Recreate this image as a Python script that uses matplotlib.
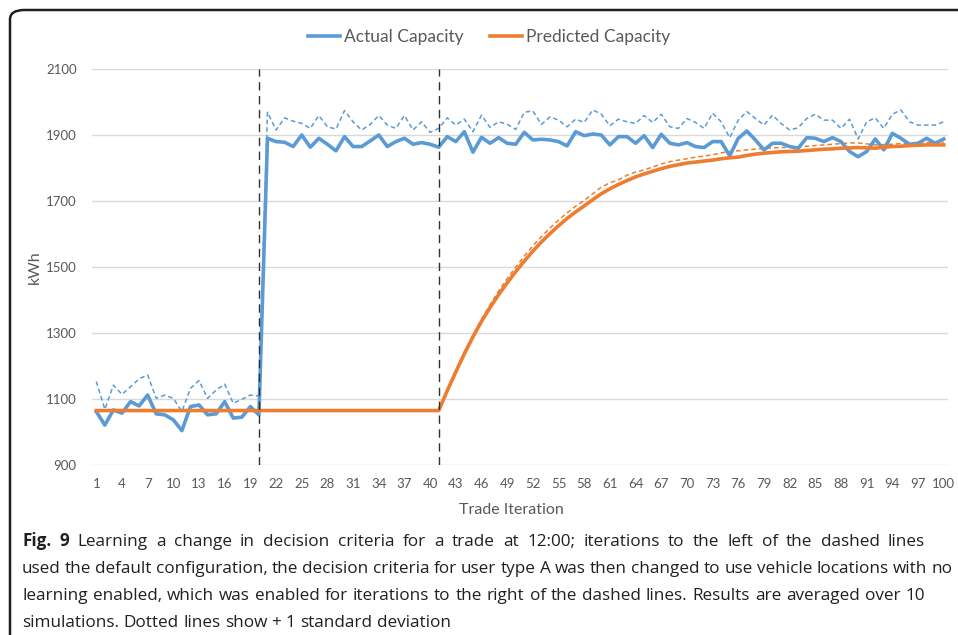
import numpy as np
import matplotlib
matplotlib.use("Agg")
from matplotlib import pyplot as plt
from matplotlib.patches import FancyBboxPatch

# ---------------------------- data ----------------------------
iterations = np.arange(1, 101)

actual = [1062, 1021, 1067, 1057, 1092, 1079, 1112, 1055, 1052, 1037,
          1004, 1077, 1082, 1052, 1055, 1092, 1042, 1045, 1077, 1052,
          1890, 1880, 1878, 1865, 1900, 1863, 1890, 1872, 1852, 1895,
          1865, 1865, 1882, 1900, 1865, 1880, 1890, 1872, 1877, 1872,
          1863, 1895, 1880, 1910, 1848, 1893, 1875, 1892, 1875, 1872,
          1908, 1885, 1887, 1885, 1880, 1867, 1910, 1898, 1903, 1900,
          1870, 1895, 1895, 1875, 1898, 1862, 1902, 1875, 1870, 1877,
          1865, 1862, 1880, 1880, 1837, 1890, 1912, 1885, 1855, 1875,
          1875, 1865, 1860, 1892, 1890, 1880, 1892, 1880, 1850, 1834,
          1850, 1888, 1855, 1905, 1890, 1872, 1875, 1890, 1875, 1888]

actual_sd = [1153, 1069, 1142, 1114, 1137, 1161, 1173, 1102, 1112, 1102,
             1062, 1132, 1156, 1102, 1127, 1145, 1087, 1099, 1112, 1109,
             1969, 1915, 1952, 1942, 1935, 1920, 1959, 1925, 1918, 1974,
             1940, 1915, 1932, 1959, 1930, 1920, 1959, 1915, 1940, 1908,
             1920, 1952, 1930, 1948, 1910, 1960, 1923, 1940, 1933, 1917,
             1969, 1973, 1932, 1955, 1945, 1925, 1948, 1938, 1976, 1963,
             1928, 1948, 1940, 1935, 1959, 1938, 1963, 1925, 1920, 1950,
             1938, 1920, 1966, 1940, 1892, 1945, 1971, 1950, 1930, 1960,
             1935, 1915, 1922, 1950, 1963, 1945, 1945, 1920, 1948, 1888,
             1940, 1952, 1920, 1963, 1976, 1940, 1930, 1930, 1930, 1940]

predicted = [1065] * 40 + [
    1065, 1125, 1182, 1237, 1288, 1335, 1377, 1416, 1452, 1486,
    1518, 1548, 1576, 1601, 1625, 1647, 1667, 1685, 1704, 1722,
    1737, 1750, 1762, 1773, 1782, 1790, 1798, 1805, 1810, 1815,
    1818, 1821, 1824, 1828, 1831, 1833, 1838, 1842, 1845, 1847,
    1849, 1850, 1851, 1853, 1855, 1857, 1858, 1860, 1861, 1862,
    1861, 1860, 1863, 1865, 1866, 1868, 1869, 1870, 1870, 1870]

predicted_sd = [1065] * 40 + [
    1065, 1128, 1186, 1242, 1294, 1342, 1386, 1427, 1465, 1500,
    1533, 1564, 1592, 1618, 1642, 1664, 1684, 1702, 1722, 1742,
    1755, 1764, 1778, 1788, 1794, 1803, 1812, 1819, 1824, 1828,
    1833, 1836, 1840, 1846, 1850, 1852, 1855, 1857, 1859, 1861,
    1862, 1863, 1864, 1866, 1868, 1870, 1872, 1874, 1876, 1876,
    1873, 1870, 1871, 1872, 1874, 1875, 1876, 1877, 1877, 1878]

change_points = [20, 41]
y_ticks = [900, 1100, 1300, 1500, 1700, 1900, 2100]
x_ticks = list(range(1, 101, 3))

caption_bold = ["Fig.", "9"]
caption_lines = [
    "Learning a change in decision criteria for a trade at 12:00; iterations to the left of the dashed lines",
    "used the default configuration, the decision criteria for user type A was then changed to use vehicle locations with no",
    "learning enabled, which was enabled for iterations to the right of the dashed lines. Results are averaged over 10",
    "simulations. Dotted lines show + 1 standard deviation",
]
caption_right = [925, 952, 925, None]   # justified right edge in px, None = ragged

BLUE = "#5B9BD5"
ORANGE = "#ED7D31"
GREY = "#595959"
W, H = 958, 635

plt.rcParams['font.family'] = ['Lato', 'DejaVu Sans']

fig = plt.figure(figsize=(W / 100, H / 100), dpi=100)
ax = fig.add_axes([92 / W, 1 - 465 / H, 856 / W, 396 / H])

# ---------------------------- lines ----------------------------
ax.plot(iterations, actual_sd, color=BLUE, lw=1.1, ls=(0, (3, 2)), zorder=3)
ax.plot(iterations, predicted_sd, color=ORANGE, lw=1.1, ls=(0, (3, 2)), zorder=3)
ax.plot(iterations, actual, color=BLUE, lw=2.6, label="Actual Capacity", zorder=4,
        solid_joinstyle='round')
ax.plot(iterations, predicted, color=ORANGE, lw=2.6, label="Predicted Capacity", zorder=5,
        solid_joinstyle='round')

for cp in change_points:
    ax.axvline(cp, color="#303030", lw=1.0, ls=(0, (6, 4)), zorder=6)

# ---------------------------- axes styling ----------------------------
ax.set_xlim(0.5, 100.5)
ax.set_ylim(900, 2100)
ax.set_yticks(y_ticks)
ax.set_xticks(x_ticks)
ax.grid(axis='y', color="#D9D9D9", lw=1.0)
ax.set_axisbelow(True)
for s in ax.spines.values():
    s.set_visible(False)
ax.tick_params(length=0, labelsize=9.5, labelcolor=GREY)
ax.tick_params(axis='y', pad=11)
ax.tick_params(axis='x', pad=9)
ax.set_xlabel("Trade Iteration", fontsize=11.5, color=GREY)
ax.xaxis.set_label_coords((511.5 - 92) / 856, -0.095)
ax.set_ylabel("kWh", fontsize=11.5, color=GREY, labelpad=3)

ax.legend(loc='lower center', bbox_to_anchor=(0.464, 1.022), ncol=2, frameon=False,
          fontsize=12.5, labelcolor=GREY, handlelength=1.85, handletextpad=0.2,
          columnspacing=1.55)

# ---------------------------- frame and caption ----------------------------
frame = FancyBboxPatch((10 / W, -0.1), 1.2, 1 - 10 / H + 0.1,
                       boxstyle="round,pad=0,rounding_size=0.015",
                       transform=fig.transFigure, fill=False,
                       ec="#231F20", lw=1.8, clip_on=False)
fig.patches.append(frame)

cap_font = dict(family=['Open Sans', 'DejaVu Sans'], fontsize=12.3, color="#231F20")
renderer = fig.canvas.get_renderer()


def caption_line(parts, x0, x1, y_px):
    # parts: list of (word, weight); justified between x0 and x1 when x1 is given
    texts, widths = [], []
    for word, wt in parts:
        t = fig.text(0, 1 - y_px / H, word, fontweight=wt, va='baseline', **cap_font)
        texts.append(t)
        widths.append(t.get_window_extent(renderer).width)
    if x1 is None or len(parts) < 2:
        probe = fig.text(0, 0, "a a", **cap_font)
        probe2 = fig.text(0, 0, "aa", **cap_font)
        gap = probe.get_window_extent(renderer).width - probe2.get_window_extent(renderer).width
        probe.remove()
        probe2.remove()
    else:
        gap = (x1 - x0 - sum(widths)) / (len(parts) - 1)
    x = x0
    for t, w in zip(texts, widths):
        t.set_x(x / W)
        x += w + gap


baselines = [546, 573, 600, 627]
for i, line in enumerate(caption_lines):
    parts = [(w, 'normal') for w in line.split(" ")]
    if i == 0:
        parts = [(w, 'bold') for w in caption_bold] + parts
    caption_line(parts, 22, caption_right[i], baselines[i])

fig.savefig("out.png", dpi=100)
